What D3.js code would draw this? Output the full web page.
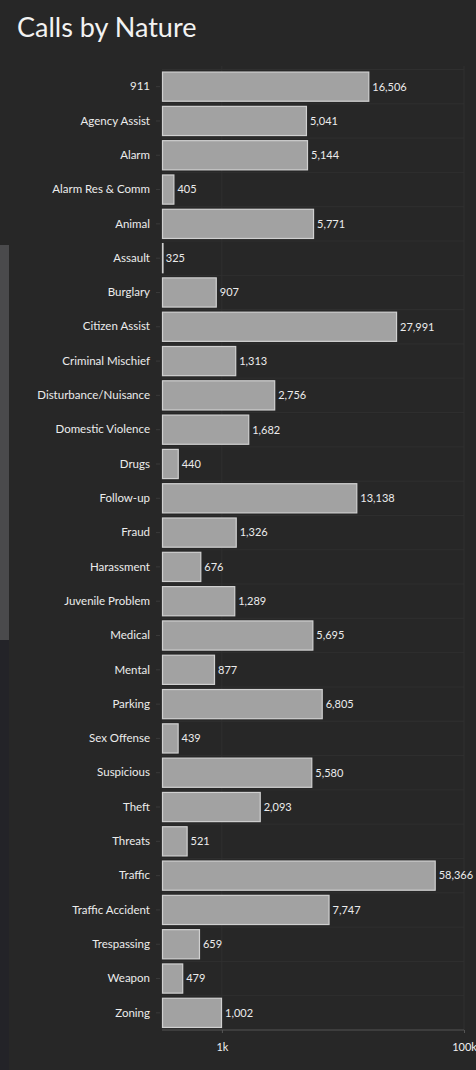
<!DOCTYPE html>
<html><head><meta charset="utf-8">
<script src="https://cdn.jsdelivr.net/npm/d3@7"></script>
<style>
html,body{margin:0;padding:0;background:#272727;}
svg{display:block;}
text{font-family:Lato,"Open Sans",sans-serif;}
</style></head>
<body>
<svg id="c" width="476" height="1070"></svg>
<script>
const categories = ["911","Agency Assist","Alarm","Alarm Res & Comm","Animal","Assault","Burglary","Citizen Assist","Criminal Mischief","Disturbance/Nuisance","Domestic Violence","Drugs","Follow-up","Fraud","Harassment","Juvenile Problem","Medical","Mental","Parking","Sex Offense","Suspicious","Theft","Threats","Traffic","Traffic Accident","Trespassing","Weapon","Zoning"];
const calls = [16506,5041,5144,405,5771,325,907,27991,1313,2756,1682,440,13138,1326,676,1289,5695,877,6805,439,5580,2093,521,58366,7747,659,479,1002];
const tickValues = [1000,100000];
const tickLabels = ["1k","100k"];

const svg = d3.select("#c");
// background artifacts on the left edge
svg.append("rect").attr("x",0).attr("y",0).attr("width",476).attr("height",1070).attr("fill","#272727");
svg.append("rect").attr("x",0).attr("y",245).attr("width",9).attr("height",395).attr("fill","#4a4a4c");
svg.append("rect").attr("x",0).attr("y",640).attr("width",9).attr("height",430).attr("fill","#232328");

svg.append("text").attr("x",17).attr("y",37).attr("fill","#f2f2f2")
  .attr("font-size",27).attr("font-weight",400).text("Calls by Nature");

const x = d3.scaleLog().domain([320,100000]).range([162,464]);
const y = d3.scaleBand().domain(categories).range([69.5,1030]).paddingInner(0.12).paddingOuter(0.06);

const g = svg.append("g");
// horizontal gridlines between rows
g.selectAll("line.hg").data(categories).join("line").attr("class","hg")
  .attr("x1",162).attr("x2",464)
  .attr("y1",d=>y(d)-y.step()*y.paddingInner()/2).attr("y2",d=>y(d)-y.step()*y.paddingInner()/2)
  .attr("stroke","#2f2f2f").attr("stroke-width",1);
// vertical gridlines
g.selectAll("line.vg").data(tickValues).join("line").attr("class","vg")
  .attr("x1",d=>x(d)).attr("x2",d=>x(d)).attr("y1",66).attr("y2",1030)
  .attr("stroke","#303030");

g.selectAll("rect.bar").data(categories).join("rect").attr("class","bar")
  .attr("x",x(320)+0.5).attr("y",(d)=>y(d)+0.5)
  .attr("width",(d,i)=>Math.max(0.5,x(calls[i])-x(320)-1))
  .attr("height",y.bandwidth()-1)
  .attr("fill","#a2a2a2").attr("stroke","#d0d0d0").attr("stroke-width",1.2);

g.selectAll("text.val").data(categories).join("text").attr("class","val")
  .attr("x",(d,i)=>x(calls[i])+3).attr("y",d=>y(d)+y.bandwidth()/2).attr("dy","0.35em")
  .attr("fill","#ececec").attr("font-size",11)
  .text((d,i)=>d3.format(",")(calls[i]));

const yAxis = d3.axisLeft(y).tickSize(4).tickPadding(6);
const ya = svg.append("g").attr("transform","translate(160,0)").call(yAxis);
ya.select(".domain").remove();
ya.selectAll(".tick line").attr("stroke","#3a3a3a");
ya.selectAll(".tick text").attr("fill","#ececec").attr("font-size",11.5).attr("font-family","Lato,sans-serif");

const xAxis = d3.axisBottom(x).tickValues(tickValues).tickFormat((d,i)=>tickLabels[i]).tickSize(3).tickPadding(10);
const xa = svg.append("g").attr("transform","translate(0,1030)").call(xAxis);
xa.select(".domain").attr("stroke","#555").attr("d","M162,0H464");
xa.selectAll(".tick line").attr("stroke","#555");
xa.selectAll(".tick text").attr("fill","#f0f0f0").attr("font-size",11).attr("font-family","Lato,sans-serif");
</script>
</body></html>
